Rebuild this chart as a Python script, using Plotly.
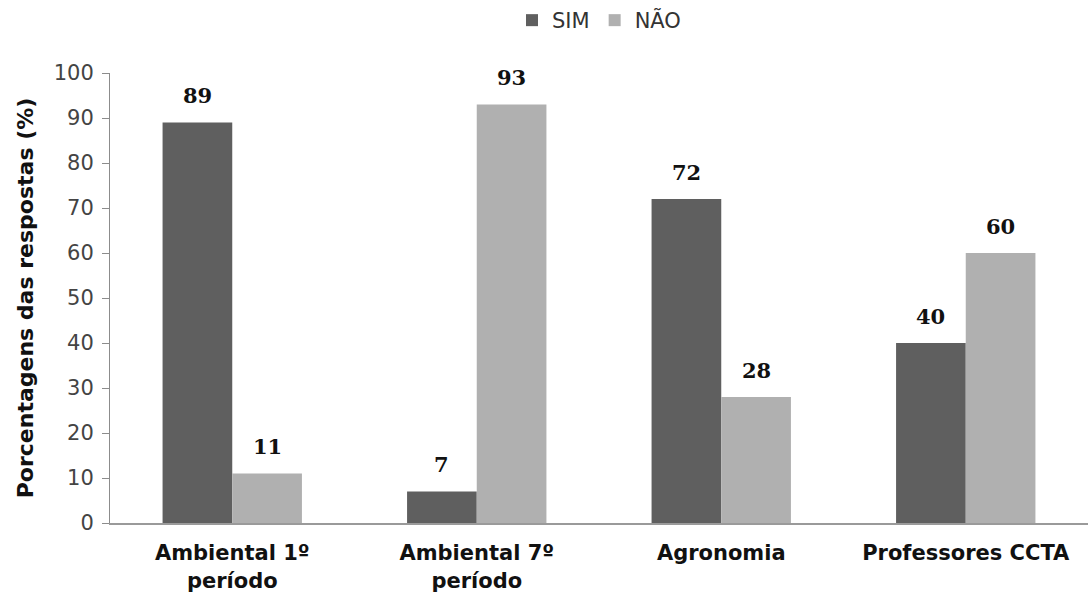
import plotly.graph_objects as go

categories = ["Ambiental 1º<br>período", "Ambiental 7º<br>período", "Agronomia", "Professores CCTA"]
sim_values = [89, 7, 72, 40]
nao_values = [11, 93, 28, 60]
y_ticks = [0, 10, 20, 30, 40, 50, 60, 70, 80, 90, 100]

SANS = "DejaVu Sans, Liberation Sans, Arial, sans-serif"
SERIF = "DejaVu Serif, Liberation Serif, serif"

fig = go.Figure()
fig.add_trace(go.Bar(
    name="SIM", x=categories, y=sim_values,
    marker=dict(color="#5f5f5f", line=dict(width=0)),
))
fig.add_trace(go.Bar(
    name="NÃO", x=categories, y=nao_values,
    marker=dict(color="#b0b0b0", line=dict(width=0)),
))

# value labels above each bar
bar_px = 978 / 4 * (1 - 0.43) / 2
for vals, shift in ((sim_values, -bar_px / 2), (nao_values, bar_px / 2)):
    for cat, v in zip(categories, vals):
        fig.add_annotation(
            x=cat, y=v, text=str(v), showarrow=False,
            xshift=shift, yshift=27, yanchor="middle", xanchor="center",
            font=dict(family=SERIF, size=21, color="#111111", weight="bold"),
        )

fig.update_layout(
    width=1088, height=598,
    margin=dict(l=110, r=0, t=73, b=75, autoexpand=False),
    paper_bgcolor="white", plot_bgcolor="white",
    barmode="group", bargap=0.43, bargroupgap=0,
    font=dict(family=SANS, color="#333333"),
    legend=dict(orientation="h", x=0.5, xanchor="center", y=1.0, yanchor="top",
                yref="container", font=dict(family=SANS, size=21, color="#333333"),
                traceorder="normal", itemwidth=30, tracegroupgap=0),
)

fig.update_xaxes(
    automargin=False,
    showline=True, linecolor="#9a9a9a", linewidth=2,
    ticks="", showgrid=False, ticklabelstandoff=10,
    tickfont=dict(family=SANS, size=21, color="#111111", weight="bold"),
)
fig.update_yaxes(
    automargin=False,
    range=[0, 100], tickvals=y_ticks, showgrid=False,
    showline=True, linecolor="#8c8c8c", linewidth=1,
    ticks="outside", ticklen=7, tickcolor="#8c8c8c", ticklabelstandoff=4,
    tickfont=dict(family=SANS, size=21, color="#444444"),
    title=dict(text="Porcentagens das respostas (%)", standoff=14,
               font=dict(family=SANS, size=22, color="#111111", weight="bold")),
)

fig.write_html("out.html", config={"displayModeBar": False},
               post_script="document.body.style.margin='0px';")
